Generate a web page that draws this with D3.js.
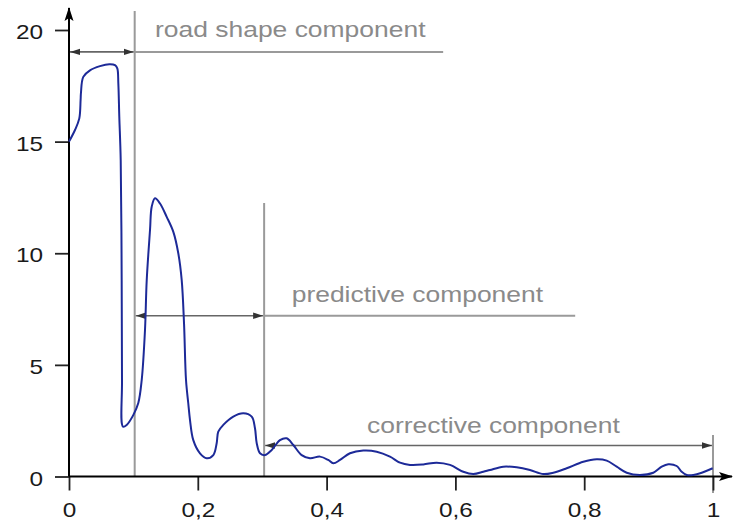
<!DOCTYPE html>
<html>
<head>
<meta charset="utf-8">
<script src="https://cdn.jsdelivr.net/npm/d3@7"></script>
<style>
  body { margin: 0; background: #fff; }
  svg text { font-family: "Liberation Sans", Arial, sans-serif; }
</style>
</head>
<body>
<div id="chart"></div>
<script>
// Signal curve
const curveX = [0, 0.0093, 0.016, 0.018, 0.0186, 0.0222, 0.0326, 0.0481, 0.0626, 0.0714, 0.075, 0.0766, 0.0781, 0.0803,
  0.0818, 0.0823, 0.0839, 0.0896, 0.0998, 0.1076, 0.1129, 0.118, 0.1207, 0.1258, 0.1284, 0.1335, 0.1413, 0.1517,
  0.162, 0.1697, 0.175, 0.1786, 0.1817, 0.1852, 0.1879, 0.193, 0.2034, 0.2138, 0.2241, 0.2293, 0.2318, 0.2396,
  0.2551, 0.2707, 0.2837, 0.2888, 0.2915, 0.2966, 0.3043, 0.3148, 0.3276, 0.338, 0.3483, 0.3613, 0.3742, 0.3898,
  0.4026, 0.4104, 0.4208, 0.4363, 0.457, 0.4778, 0.4984, 0.514, 0.5295, 0.5501, 0.5709, 0.5916, 0.6123, 0.6278,
  0.6433, 0.6537, 0.6744, 0.6952, 0.7158, 0.7365, 0.752, 0.7728, 0.7986, 0.8194, 0.835, 0.8505, 0.866, 0.8866,
  0.9073, 0.9203, 0.9306, 0.9436, 0.9514, 0.9592, 0.9694, 0.9825, 0.9995]
const curveY = [15.0, 15.52, 16.04, 16.86, 17.2, 17.9, 18.19, 18.38, 18.47, 18.43, 18.28, 17.61, 16.11, 14.17,
  8.8, 4.32, 2.23, 2.31, 2.75, 3.29, 4.32, 6.56, 8.8, 11.04, 12.08, 12.46, 12.23, 11.63,
  10.96, 10.0, 8.8, 6.87, 4.32, 3.28, 2.53, 1.63, 1.04, 0.82, 0.96, 1.49, 2.01, 2.31,
  2.68, 2.83, 2.68, 2.16, 1.49, 1.04, 0.96, 1.19, 1.63, 1.71, 1.41, 0.96, 0.82, 0.89,
  0.74, 0.59, 0.74, 1.04, 1.16, 1.11, 0.89, 0.62, 0.52, 0.54, 0.62, 0.52, 0.21, 0.11,
  0.21, 0.29, 0.44, 0.41, 0.29, 0.11, 0.17, 0.37, 0.66, 0.77, 0.71, 0.44, 0.17, 0.07,
  0.17, 0.44, 0.55, 0.47, 0.21, 0.07, 0.07, 0.17, 0.37]

// Axes
const xTicks = [0, 0.2, 0.4, 0.6, 0.8, 1]
const xTickLabels = ["0", "0,2", "0,4", "0,6", "0,8", "1"]
const yTicks = [0, 5, 10, 15, 20]

// Component annotations
const compNames = ["road shape component", "predictive component", "corrective component"]
const compStart = [0, 0.102, 0.303]
const compEnd = [0.102, 0.303, 1]
const compLevel = [19.02, 7.2, 1.39]      // height of the arrow
const compLineEnd = [0.581, 0.786, 1]     // grey line continues to here
const compLabelX = [0.1335, 0.3458, 0.4627]
const dividerX = [0.102, 0.303, 1]
const dividerTop = [20.85, 12.25, 1.86]
const dividerBottom = [0, 0, -0.74]

const W = 733, H = 526
const x = d3.scaleLinear().domain([0, 1]).range([69, 713])
const y = d3.scaleLinear().domain([0, 20]).range([476.5, 30])
const stretch = "scale(1.16,1)"

const svg = d3.select("#chart").append("svg")
  .attr("width", W)
  .attr("height", H)

const defs = svg.append("defs")
defs.append("marker")
  .attr("id", "axisHead")
  .attr("markerUnits", "userSpaceOnUse")
  .attr("viewBox", "0 -5 14 10")
  .attr("refX", 13).attr("refY", 0)
  .attr("markerWidth", 14).attr("markerHeight", 10)
  .attr("orient", "auto")
  .append("path")
  .attr("d", "M0,-4.5L14,0L0,4.5L3,0Z")
  .attr("fill", "#000")
defs.append("marker")
  .attr("id", "compHead")
  .attr("markerUnits", "userSpaceOnUse")
  .attr("viewBox", "0 -4 10 8")
  .attr("refX", 10).attr("refY", 0)
  .attr("markerWidth", 10).attr("markerHeight", 8)
  .attr("orient", "auto-start-reverse")
  .append("path")
  .attr("d", "M0,-3.2L10,0L0,3.2Z")
  .attr("fill", "#333")

// grey divider lines
svg.append("g").selectAll("line")
  .data(dividerX)
  .join("line")
  .attr("x1", d => x(d)).attr("x2", d => x(d))
  .attr("y1", (d, i) => y(dividerTop[i]))
  .attr("y2", (d, i) => y(dividerBottom[i]))
  .attr("stroke", "#9a9a9a")
  .attr("stroke-width", 2)

// grey continuation lines
svg.append("g").selectAll("line")
  .data(compNames)
  .join("line")
  .attr("x1", (d, i) => x(compEnd[i]))
  .attr("x2", (d, i) => x(compLineEnd[i]))
  .attr("y1", (d, i) => y(compLevel[i]))
  .attr("y2", (d, i) => y(compLevel[i]))
  .attr("stroke", "#9a9a9a")
  .attr("stroke-width", 2)

// double arrows
svg.append("g").selectAll("line")
  .data(compNames)
  .join("line")
  .attr("x1", (d, i) => x(compStart[i]) + 1)
  .attr("x2", (d, i) => x(compEnd[i]) - 1)
  .attr("y1", (d, i) => y(compLevel[i]))
  .attr("y2", (d, i) => y(compLevel[i]))
  .attr("stroke", "#666")
  .attr("stroke-width", 1.6)
  .attr("marker-start", "url(#compHead)")
  .attr("marker-end", "url(#compHead)")

// labels
const labelOffset = [14.7, 14, 12.5]
svg.append("g").selectAll("text")
  .data(compNames)
  .join("text")
  .attr("transform", (d, i) => `translate(${x(compLabelX[i])},${y(compLevel[i]) - labelOffset[i]}) ${stretch}`)
  .attr("font-size", 22.8)
  .attr("fill", "#8a8a8a")
  .text(d => d)

// axes
const yAxis = svg.append("g")
  .attr("transform", `translate(${x(0)},0)`)
  .call(d3.axisLeft(y).tickValues(yTicks).tickSize(14).tickFormat(d3.format("d")))
yAxis.select(".domain").remove()
yAxis.selectAll(".tick line").attr("stroke", "#222").attr("stroke-width", 1.8)
yAxis.selectAll(".tick text")
  .attr("x", 0).attr("dy", null).attr("y", 0)
  .attr("transform", `translate(-26,8.5) ${stretch}`)
  .attr("font-size", 21)
  .attr("font-family", null)
  .attr("fill", "#1a1a1a")

const xAxis = svg.append("g")
  .attr("transform", `translate(0,${y(0)})`)
  .call(d3.axisBottom(x).tickValues(xTicks).tickSize(14).tickFormat((d, i) => xTickLabels[i]))
xAxis.select(".domain").remove()
xAxis.selectAll(".tick line").attr("stroke", "#222").attr("stroke-width", 1.8)
xAxis.selectAll(".tick text")
  .attr("y", 0).attr("dy", null)
  .attr("transform", `translate(0,40) ${stretch}`)
  .attr("font-size", 21)
  .attr("fill", "#1a1a1a")

// axis lines with arrow heads
svg.append("line")
  .attr("x1", x(0)).attr("x2", x(0))
  .attr("y1", y(0)).attr("y2", 8)
  .attr("stroke", "#000").attr("stroke-width", 2)
  .attr("marker-end", "url(#axisHead)")
svg.append("line")
  .attr("x1", x(0)).attr("x2", 732)
  .attr("y1", y(0)).attr("y2", y(0))
  .attr("stroke", "#000").attr("stroke-width", 2)
  .attr("marker-end", "url(#axisHead)")

// the signal
const points = curveX.map((d, i) => [d, curveY[i]])
const line = d3.line()
  .x(d => x(d[0]))
  .y(d => y(d[1]))
  .curve(d3.curveCatmullRom.alpha(0.5))

svg.append("path")
  .datum(points)
  .attr("d", line)
  .attr("fill", "none")
  .attr("stroke", "#1d2a98")
  .attr("stroke-width", 2)
</script>
</body>
</html>
